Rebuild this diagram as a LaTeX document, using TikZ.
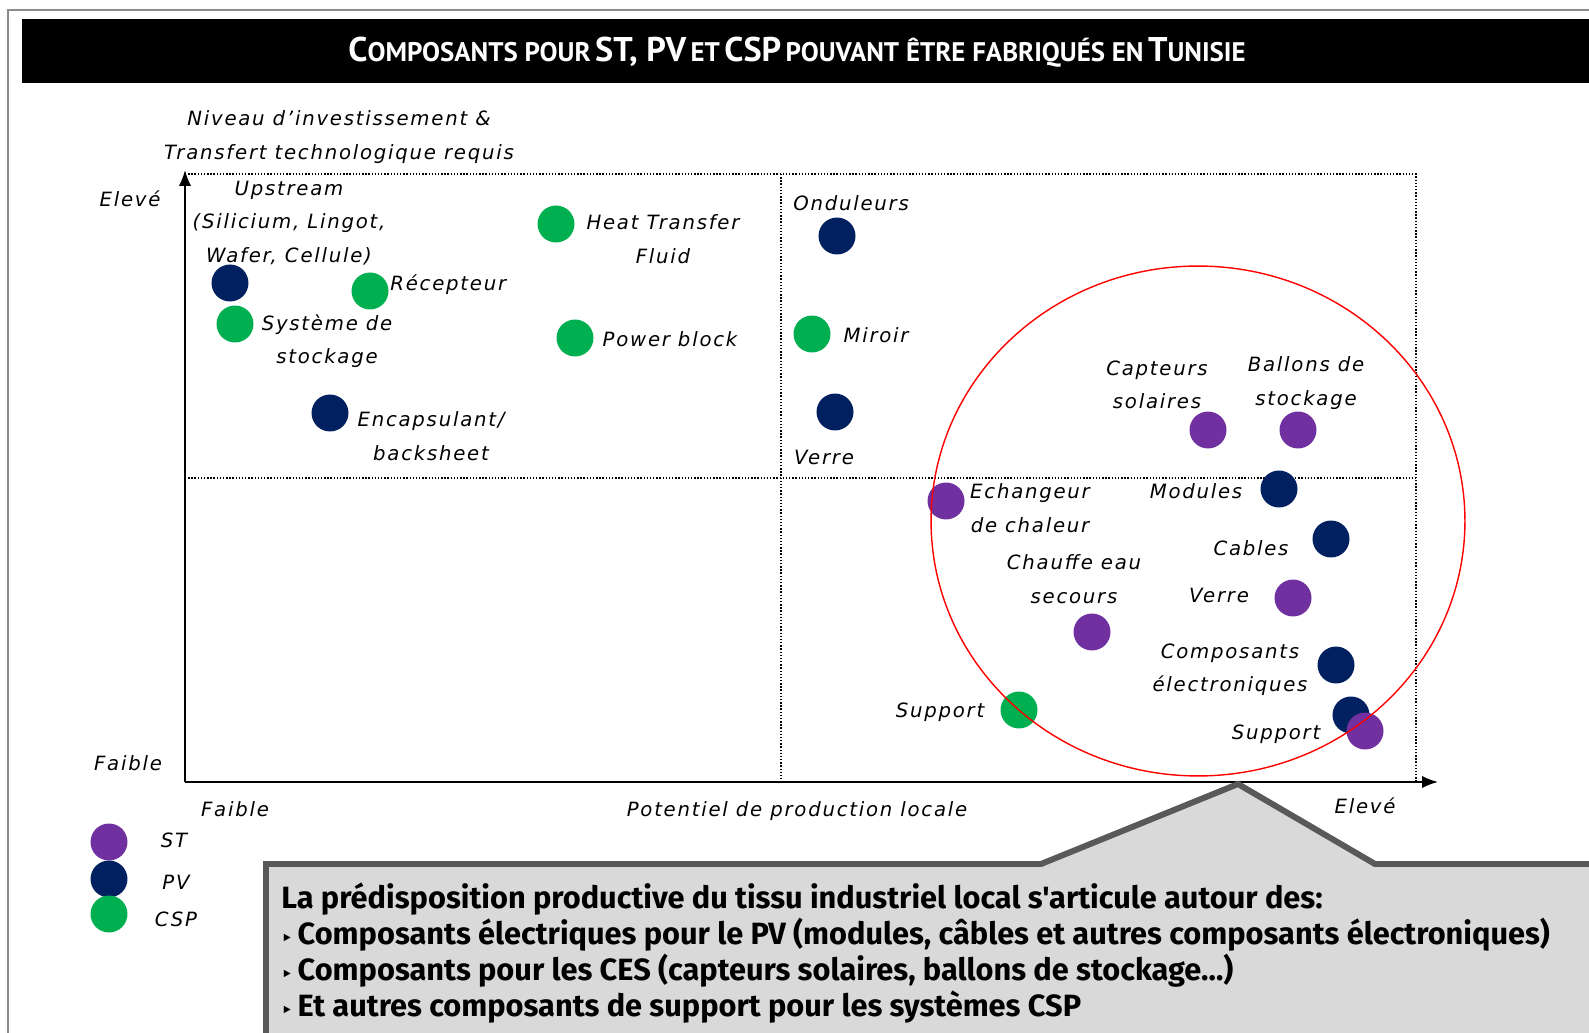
\documentclass[tikz,border=0pt]{standalone}
\usepackage{fontspec}
\setmainfont{DejaVu Sans}
\newfontfamily\lblfont[LetterSpace=9]{DejaVu Sans}
\newfontfamily\titlefont{PT Sans}
\newfontfamily\boxfont{Fira Sans}
\newfontfamily\bulletfont{DejaVu Sans}
\usepackage{xcolor}
\usepackage{tikz}
\usetikzlibrary{positioning, arrows.meta}

\definecolor{stcol}{HTML}{7030A0}
\definecolor{pvcol}{HTML}{002060}
\definecolor{cspcol}{HTML}{00B050}
\definecolor{boxfill}{HTML}{D9D9D9}
\definecolor{boxline}{HTML}{595959}

\newcommand{\tbig}[1]{{\fontsize{19.5}{19.5}\selectfont #1}}
\newcommand{\tsml}[1]{{\fontsize{15.3}{15.3}\selectfont #1}}
\newcommand{\tri}{{\bulletfont\fontsize{10}{10}\selectfont ‣}}

\begin{document}
\begin{tikzpicture}[x=0.02cm, y=-0.02cm,
		dot/.style = {circle, inner sep=0pt, minimum size=0.74cm},
		stdot/.style = {dot, fill=stcol},
		pvdot/.style = {dot, fill=pvcol},
		cspdot/.style = {dot, fill=cspcol},
		lbl/.style = {font=\lblfont\fontsize{11.2}{19}\selectfont\itshape, align=center, inner sep=0pt},
		grid/.style = {dash pattern=on 0.8pt off 1pt, line width=0.7pt}]
			\def\xmin{185};
			\def\xmid{781};
			\def\xmax{1416};
			\def\ytop{174};
			\def\ymid{478};
			\def\ybot{782};
			
			\useasboundingbox (0,0) rectangle (1589,1033);
			
			\draw[black!45, line width=1.2pt] (8,1033) -- (8,10) -- (1589,10);
			
			\fill (22,19) rectangle (1589,83);
			\node[text=white, font=\titlefont\bfseries] (title) at (797,52)
				{\tbig{C}\tsml{OMPOSANTS POUR} \tbig{ST, PV} \tsml{ET} \tbig{CSP} \tsml{POUVANT ÊTRE FABRIQUÉS EN} \tbig{T}\tsml{UNISIE}};
			
			% quadrants
			\begin{scope}[grid]
				\draw (\xmin,\ytop) -- (\xmax,\ytop) -- (\xmax,\ybot);
				\draw (\xmin,\ymid) -- (\xmax,\ymid);
				\draw (\xmid,\ytop) -- (\xmid,\ybot);
			\end{scope}
			
			\coordinate (o) at (\xmin,\ybot);
			\coordinate (ytip) at (\xmin,170);
			\coordinate (xtip) at (1438,\ybot);
			\draw[line width=1.1pt, -{Latex[length=9pt, width=7pt]}] (o) -- (ytip);
			\draw[line width=1.1pt, -{Latex[length=9pt, width=7pt]}] (o) -- (xtip);
			
			\node[lbl] (yname) at (339,137) {Niveau d’investissement \&\\Transfert technologique requis};
			\node[lbl] (yhigh) at (130,199) {Elevé};
			\node[lbl] (ylow) at (128,763) {Faible};
			\node[lbl] (xlow) at (235,809) {Faible};
			\node[lbl] (xname) at (797,811) {Potentiel de production locale};
			\node[lbl] (xhigh) at (1365,806) {Elevé};
			
			% high investment, low potential
			\node[pvdot] (upstream) at (230,283) {};
			\node[cspdot] (stockage) at (235,324) {};
			\node[cspdot] (recepteur) at (370,291) {};
			\node[cspdot] (htf) at (556,224) {};
			\node[cspdot] (power) at (575,338) {};
			\node[pvdot] (encaps) at (330,413) {};
			\node[lbl] at (289,223) {Upstream\\(Silicium, Lingot,\\Wafer, Cellule)};
			\node[lbl, anchor=west] at (390,285) {Récepteur};
			\node[lbl] at (327,341) {Système de\\stockage};
			\node[lbl] at (663,239) {Heat Transfer\\Fluid};
			\node[lbl] at (670,339) {Power block};
			\node[lbl] at (431,436) {Encapsulant/\\backsheet};
			
			% high investment, high potential
			\node[pvdot] (onduleurs) at (837,236) {};
			\node[cspdot] (miroir) at (812,334) {};
			\node[pvdot] (verrepv) at (835,412) {};
			\node[stdot] (capteurs) at (1208,430) {};
			\node[stdot] (ballons) at (1298,430) {};
			\node[lbl] at (851,203) {Onduleurs};
			\node[lbl] at (876,335) {Miroir};
			\node[lbl] at (824,457) {Verre};
			\node[lbl] at (1157,385) {Capteurs\\solaires};
			\node[lbl] at (1306,383) {Ballons de\\stockage};
			
			% low investment, high potential
			\node[stdot] (echangeur) at (946,501) {};
			\node[pvdot] (modules) at (1279,489) {};
			\node[pvdot] (cables) at (1331,539) {};
			\node[stdot] (verrest) at (1293,598) {};
			\node[stdot] (chauffe) at (1092,632) {};
			\node[pvdot] (composants) at (1336,665) {};
			\node[cspdot] (supportcsp) at (1019,710) {};
			\node[pvdot] (supportpv) at (1351,715) {};
			\node[stdot] (supportst) at (1365,731) {};
			\node[lbl] at (1030,508) {Echangeur\\de chaleur};
			\node[lbl] at (1196,491) {Modules};
			\node[lbl] at (1074,579) {Chauffe eau\\secours};
			\node[lbl] at (1251,548) {Cables};
			\node[lbl] at (1219,595) {Verre};
			\node[lbl] at (1230,670) {Composants\\électroniques};
			\node[lbl] at (940,712) {Support};
			\node[lbl] at (1276,734) {Support};
			
			\draw[red, line width=0.8pt] (1198,521) circle [x radius=5.34cm, y radius=5.1cm];
			
			% legend
			\node[stdot] (keyst) at (109,842) {};
			\node[pvdot] (keypv) at (109,879) {};
			\node[cspdot] (keycsp) at (109,914) {};
			\node[lbl] at (174,840) {ST};
			\node[lbl] at (176,882) {PV};
			\node[lbl] at (176,919) {CSP};
			
			% callout
			\draw[line width=3.4pt, draw=boxline, fill=boxfill]
				(266,1050) -- (266,864) -- (1041,864) -- (1238,784) -- (1375,864) -- (1610,864) -- (1610,1050) -- cycle;
			\node[anchor=north west, align=left, inner sep=0pt,
				font=\boxfont\bfseries\fontsize{17.5}{20.5}\selectfont] (summary) at (281,882)
				{La prédisposition productive du tissu industriel local s'articule autour des:\\
				\tri\,Composants électriques pour le PV (modules, câbles et autres composants électroniques)\\
				\tri\,Composants pour les CES (capteurs solaires, ballons de stockage…)\\
				\tri\,Et autres composants de support pour les systèmes CSP};
		\end{tikzpicture}
\end{document}
